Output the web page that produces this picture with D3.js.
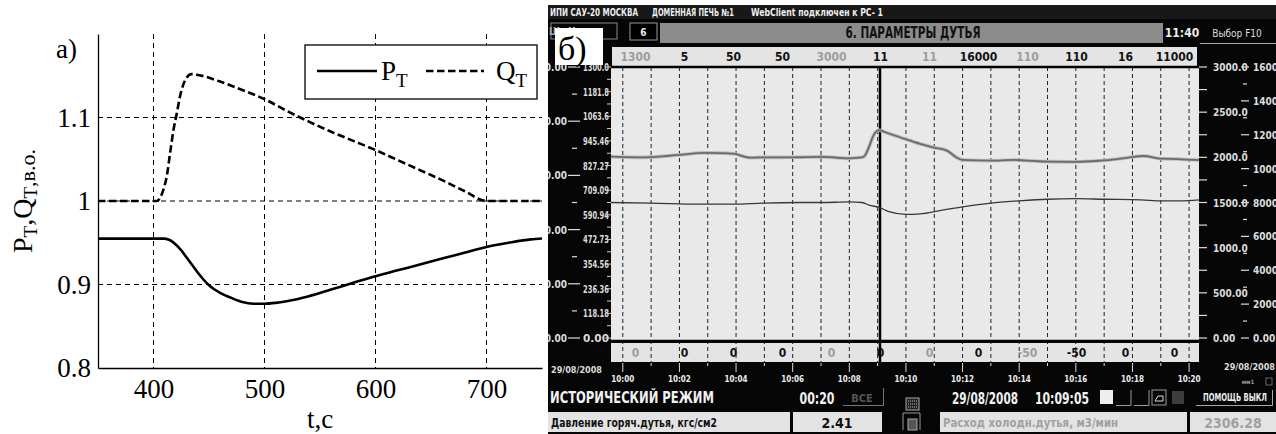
<!DOCTYPE html>
<html lang="ru">
<head>
<meta charset="UTF-8">
<title>P_T, Q_T</title>
<script src="https://d3js.org/d3.v7.min.js"></script>
<style>
    body{margin:0;background:#fff;}
    svg{display:block;}
</style>
</head>
<body>
<svg id="canvas" width="1276" height="434"></svg>
<script>
// ---------- panel a) data ----------
const tP = [350,410,415,420,425,430,435,440,445,450,455,460,470,480,490,500,510,520,540,560,580,600,620,640,660,680,700,720,740,750];
const pT = [0.955,0.955,0.953,0.948,0.941,0.932,0.923,0.914,0.906,0.899,0.894,0.890,0.884,0.879,0.877,0.877,0.878,0.880,0.886,0.894,0.902,0.910,0.917,0.924,0.931,0.938,0.945,0.950,0.954,0.955];
const tQ = [350,403,406,409,412,415,418,421,424,427,430,434,440,460,480,500,520,540,560,580,600,620,640,660,680,700,750];
const qT = [1.0,1.0,1.004,1.014,1.030,1.058,1.085,1.105,1.126,1.140,1.148,1.152,1.151,1.143,1.133,1.122,1.108,1.095,1.083,1.072,1.061,1.049,1.037,1.025,1.012,1.0,1.0];
const tTicksA = [400,500,600,700];
const yTicksA = [0.8,0.9,1,1.1];
const yGridA = [0.9,1,1.1];

// ---------- panel б) data ----------
const flowMin = [-0.42,0.5,1.0,1.55,2.1,2.9,3.4,3.9,4.5,4.95,5.55,6.25,7.0,7.5,7.9,8.45,8.55,8.7,8.85,9.05,9.3,10.0,10.5,10.95,11.45,11.8,12.0,13.0,13.8,14.5,15.0,16.0,16.85,17.4,17.9,18.4,19.0,19.6,20.35];
const flowVal = [2007,2000,2002,2015,2030,2050,2047,2040,1996,2000,2000,2001,2005,1998,1989,2000,2020,2120,2240,2300,2275,2200,2150,2111,2074,1996,1971,1963,1971,1960,1952,1950,1963,1978,2000,2015,1985,1981,1970];
const presMin = [-0.42,1.0,2.7,3.9,4.95,6.25,7.0,8.0,8.45,8.7,9.05,9.4,10.0,10.5,11.2,12.0,13.0,14.0,15.0,16.0,17.0,18.3,19.0,19.7,20.35];
const presVal = [2.50,2.49,2.47,2.47,2.49,2.50,2.50,2.51,2.50,2.45,2.41,2.33,2.28,2.29,2.35,2.42,2.49,2.53,2.56,2.57,2.56,2.55,2.53,2.53,2.55];
const colTop = ['1300','5','50','50','3000','11','11','16000','110','110','16','11000'];
const colTopDim = [1,0,0,0,1,0,1,0,1,0,0,0];
const colBot = ['0','0','0','0','0','0','0','0','-50','-50','0','0'];
const colBotDim = [1,0,0,0,1,0,1,0,1,0,0,0];
const leftOuterTicks = [0,10,20,30,40,50];
const leftInnerLabels = ['0.00','118.18','236.36','354.56','472.73','590.94','709.09','827.27','945.46','1063.6','1181.8','1300.0'];
const rightInnerTicks = [0,500,1000,1500,2000,2500,3000];
const rightInnerLabels = ['0.00','500.00','1000.0','1500.0','2000.0','2500.0','3000.0'];
const rightOuterTicks = [0,2000,4000,6000,8000,10000,12000,14000,16000];
const rightOuterLabels = ['0.00','2000.','4000.','6000.','8000.','10000','12000','14000','16000'];

const svg = d3.select('#canvas');
const serif = '"Liberation Serif","Times New Roman",serif';
const narrow = '"Liberation Sans Narrow","DejaVu Sans Condensed","Liberation Sans",Arial,sans-serif';

// =============== panel a) ===============
const A = {l:98, r:542, t:34, b:368};
const xA = d3.scaleLinear().domain([350,750]).range([A.l,A.r]);
const yA = d3.scaleLinear().domain([0.8,1.2]).range([A.b,A.t]);
const ga = svg.append('g');

ga.selectAll('.vg').data(tTicksA).join('line')
    .attr('x1',d=>xA(d)).attr('x2',d=>xA(d)).attr('y1',A.t).attr('y2',A.b)
    .attr('stroke','#000').attr('stroke-width',1).attr('stroke-dasharray','5,4');
ga.selectAll('.hg').data(yGridA).join('line')
    .attr('x1',A.l).attr('x2',A.r).attr('y1',d=>yA(d)).attr('y2',d=>yA(d))
    .attr('stroke','#000').attr('stroke-width',1).attr('stroke-dasharray','5,4');

let xAx = ga.append('g').attr('transform','translate(0,'+A.b+')')
    .call(d3.axisBottom(xA).tickValues(tTicksA).tickSize(0).tickSizeOuter(0).tickPadding(11));
let yAx = ga.append('g').attr('transform','translate('+A.l+',0)')
    .call(d3.axisLeft(yA).tickValues(yTicksA).tickSize(0).tickSizeOuter(0).tickPadding(7)
        .tickFormat(d=> d===1 ? '1' : d3.format('.1f')(d)));
[xAx,yAx].forEach(g=>{
    g.attr('font-family',serif).attr('font-size',27);
    g.select('.domain').attr('stroke','#000').attr('stroke-width',1.3);
    g.selectAll('text').attr('fill','#000');
});

let line = d3.line().x(d=>xA(d[0])).y(d=>yA(d[1])).curve(d3.curveMonotoneX);
ga.append('path').datum(d3.zip(tQ,qT)).attr('d',line)
    .attr('fill','none').attr('stroke','#000').attr('stroke-width',2.6).attr('stroke-dasharray','7.5,3.5');
ga.append('path').datum(d3.zip(tP,pT)).attr('d',line)
    .attr('fill','none').attr('stroke','#000').attr('stroke-width',2.6);

// legend
let lg = ga.append('g').attr('font-family',serif);
lg.append('rect').attr('x',305).attr('y',45).attr('width',232).attr('height',54)
    .attr('fill','#fff').attr('stroke','#000').attr('stroke-width',1.3);
lg.append('line').attr('x1',317).attr('x2',377).attr('y1',71).attr('y2',71).attr('stroke','#000').attr('stroke-width',2.6);
lg.append('line').attr('x1',426).attr('x2',484).attr('y1',71).attr('y2',71).attr('stroke','#000').attr('stroke-width',2.6).attr('stroke-dasharray','7.5,3.5');
[['P',381],['Q',496]].forEach(([s,x])=>{
    let t = lg.append('text').attr('x',x).attr('y',80).attr('font-size',27);
    t.append('tspan').text(s);
    t.append('tspan').attr('font-size',19).attr('dy',7).text('T');
});

ga.append('text').attr('x',56).attr('y',58).attr('font-family',serif).attr('font-size',27).text('а)');
ga.append('text').attr('x',(A.l+A.r)/2).attr('y',428).attr('text-anchor','middle')
    .attr('font-family',serif).attr('font-size',27).text('t,c');

let yl = ga.append('text').attr('transform','translate(32,'+((A.t+A.b)/2)+') rotate(-90)')
    .attr('text-anchor','middle').attr('font-family',serif).attr('font-size',28);
yl.append('tspan').text('P');
yl.append('tspan').attr('font-size',19).attr('dy',5).text('T');
yl.append('tspan').attr('dy',-5).text(',Q');
yl.append('tspan').attr('font-size',19).attr('dy',5).text('T');
yl.append('tspan').attr('font-size',22).attr('dy',-2).text(',в.о.');

// =============== panel б) ===============
const P = {x:548, y:5};
svg.append('clipPath').attr('id','clipb').append('rect')
    .attr('x',P.x).attr('y',P.y).attr('width',1276-P.x).attr('height',434-P.y);
const gb = svg.append('g').attr('clip-path','url(#clipb)').attr('font-family',narrow).attr('font-weight','bold');
gb.append('rect').attr('x',P.x).attr('y',P.y).attr('width',1276-P.x).attr('height',434-P.y).attr('fill','#060606');
gb.append('rect').attr('x',P.x).attr('y',P.y).attr('width',1276-P.x).attr('height',14).attr('fill','#181818');

// header
[['ИПИ САУ-20 МОСКВА',550,88],['ДОМЕННАЯ ПЕЧЬ №1',652,82],['WebClient подключен к PC- 1',751,132]].forEach(([s,x,w])=>{
    gb.append('text').attr('x',x).attr('y',16).attr('font-size',10).attr('fill','#eee')
        .attr('textLength',w).attr('lengthAdjust','spacingAndGlyphs').text(s);
});
gb.append('rect').attr('x',551).attr('y',23).attr('width',66).attr('height',16).attr('fill','none').attr('stroke','#888');
gb.append('text').attr('x',584).attr('y',35).attr('text-anchor','middle').attr('font-size',10).attr('fill','#ddd').text('Назад');
gb.append('text').attr('x',549).attr('y',35).attr('font-size',10).attr('fill','#aaa').text('Ш');
gb.append('rect').attr('x',630).attr('y',23).attr('width',27).attr('height',17).attr('fill','#000').attr('stroke','#999');
gb.append('text').attr('x',643.5).attr('y',35.5).attr('text-anchor','middle').attr('font-size',10).attr('fill','#eee').text('6');
gb.append('rect').attr('x',660).attr('y',23).attr('width',503).attr('height',20).attr('fill','#8c8c8c');
gb.append('text').attr('x',913).attr('y',38).attr('text-anchor','middle').attr('font-size',15).attr('fill','#111')
    .attr('textLength',135).attr('lengthAdjust','spacingAndGlyphs').text('6. ПАРАМЕТРЫ ДУТЬЯ');
gb.append('text').attr('x',1182).attr('y',37).attr('text-anchor','middle').attr('font-size',12).attr('fill','#eee').text('11:40');
gb.append('text').attr('x',1237).attr('y',37).attr('text-anchor','middle').attr('font-size',10).attr('font-weight','normal').attr('fill','#ddd').text('Выбор  F10');
gb.append('line').attr('x1',1200).attr('x2',1276).attr('y1',43.5).attr('y2',43.5).attr('stroke','#aaa');

// chart frame and scales
const C = {l:611, r:1199, t:67, b:341};
const t0 = new Date(2008,7,29,10,0,0);
const at = m => new Date(+t0 + m*60000);
const xB = d3.scaleTime().domain([new Date(2008,7,29,9,59,35), new Date(2008,7,29,10,20,21)]).range([C.l,C.r]);
const yFlow = d3.scaleLinear().domain([0,3000]).range([C.b-3,C.t]);
const yPres = d3.scaleLinear().domain([0,5]).range([C.b-3,C.t]);
const yLO = d3.scaleLinear().domain([0,50]).range([C.b-3,C.t]);
const yLI = d3.scaleLinear().domain([0,1300]).range([C.b-3,C.t]);
const yRO = d3.scaleLinear().domain([0,16000]).range([C.b-3,C.t]);
const col = d3.scaleBand().domain(d3.range(12)).range([C.l,C.r]);

gb.append('rect').attr('x',612).attr('y',47).attr('width',585).attr('height',19).attr('fill','#e4e4e4');
gb.append('rect').attr('x',C.l).attr('y',C.t).attr('width',C.r-C.l).attr('height',C.b-C.t).attr('fill','#e9e9e9');
gb.append('rect').attr('x',C.l).attr('y',C.b+2).attr('width',C.r-C.l).attr('height',19).attr('fill','#e4e4e4');

gb.selectAll('.vt').data(colTop).join('text')
    .attr('x',(d,i)=>col(i)+col.bandwidth()/2).attr('y',61).attr('text-anchor','middle')
    .attr('font-size',12).attr('fill',(d,i)=>colTopDim[i]?'#9c9c9c':'#111').text(d=>d);
gb.selectAll('.vb').data(colBot).join('text')
    .attr('x',(d,i)=>col(i)+col.bandwidth()/2).attr('y',357).attr('text-anchor','middle')
    .attr('font-size',12).attr('fill',(d,i)=>colBotDim[i]?'#9c9c9c':'#111').text(d=>d);

const minutes = xB.ticks(d3.timeMinute.every(1));
gb.selectAll('.grid').data(minutes).join('line')
    .attr('x1',d=>xB(d)).attr('x2',d=>xB(d)).attr('y1',C.t).attr('y2',C.b+21)
    .attr('stroke','#222').attr('stroke-width',1).attr('stroke-dasharray','4,3');
gb.selectAll('.mt').data(minutes).join('line')
    .attr('x1',d=>xB(d)).attr('x2',d=>xB(d)).attr('y1',C.b+22)
    .attr('y2',d=>d.getMinutes()%2===0?C.b+31:C.b+25)
    .attr('stroke','#ddd').attr('stroke-width',1);
gb.selectAll('.tl').data(xB.ticks(d3.timeMinute.every(2))).join('text')
    .attr('x',d=>xB(d)).attr('y',382).attr('text-anchor','middle').attr('font-size',8).attr('fill','#eee')
    .text(d3.timeFormat('%H:%M'));

gb.append('line').attr('x1',605).attr('x2',C.r).attr('y1',C.t).attr('y2',C.t).attr('stroke','#000').attr('stroke-width',2.5);
gb.append('line').attr('x1',605).attr('x2',C.r+4).attr('y1',C.b).attr('y2',C.b).attr('stroke','#000').attr('stroke-width',2.5);
const cursor = new Date(2008,7,29,10,9,5);
gb.append('line').attr('x1',xB(cursor)).attr('x2',xB(cursor)).attr('y1',C.t).attr('y2',C.b+21)
    .attr('stroke','#000').attr('stroke-width',2.5);

// curves
const lineFlow = d3.line().x(d=>xB(at(d[0]))).y(d=>yFlow(d[1])).curve(d3.curveMonotoneX);
const linePres = d3.line().x(d=>xB(at(d[0]))).y(d=>yPres(d[1])).curve(d3.curveMonotoneX);
gb.append('path').datum(d3.zip(flowMin,flowVal)).attr('d',lineFlow).attr('fill','none').attr('stroke','#bcbcbc').attr('stroke-width',3.6);
gb.append('path').datum(d3.zip(flowMin,flowVal)).attr('d',lineFlow).attr('fill','none').attr('stroke','#6c6c6c').attr('stroke-width',1.8);
gb.append('path').datum(d3.zip(presMin,presVal)).attr('d',linePres).attr('fill','none').attr('stroke','#383838').attr('stroke-width',1.3);

// left scales
gb.selectAll('.lo').data(leftOuterTicks).join('text')
    .attr('x',567).attr('y',d=>yLO(d)+4).attr('text-anchor','end').attr('font-size',10).attr('fill','#ddd')
    .text(d=>d3.format('.2f')(d));
gb.selectAll('.lot').data(leftOuterTicks).join('line')
    .attr('x1',568).attr('x2',580).attr('y1',d=>yLO(d)).attr('y2',d=>yLO(d)).attr('stroke','#ddd').attr('stroke-width',1.2);
gb.selectAll('.lom').data([5,15,25,35,45]).join('line')
    .attr('x1',572).attr('x2',577).attr('y1',d=>yLO(d)).attr('y2',d=>yLO(d)).attr('stroke','#ddd').attr('stroke-width',1.2);
gb.selectAll('.li').data(leftInnerLabels).join('text')
    .attr('x',609).attr('y',(d,i)=>yLI(i*1300/11)+4).attr('text-anchor','end').attr('font-size',10).attr('fill','#ddd')
    .attr('textLength',26).attr('lengthAdjust','spacingAndGlyphs').text(d=>d);
gb.selectAll('.lit').data(d3.range(23)).join('line')
    .attr('x1',d=>d%2?607:605).attr('x2',C.l).attr('y1',d=>yLI(d*650/11)).attr('y2',d=>yLI(d*650/11)).attr('stroke','#ccc');

// right scales
gb.selectAll('.rit').data(d3.range(13)).join('line')
    .attr('x1',C.r).attr('x2',C.r+8).attr('y1',d=>yFlow(d*250)).attr('y2',d=>yFlow(d*250)).attr('stroke','#ddd').attr('stroke-width',1.2);
gb.selectAll('.ri').data(rightInnerTicks).join('text')
    .attr('x',1213).attr('y',d=>yFlow(d)+4).attr('font-size',10).attr('fill','#ddd')
    .text((d,i)=>rightInnerLabels[i]);
gb.selectAll('.rot').data(d3.range(17)).join('line')
    .attr('x1',d=>d%2?1243:1241).attr('x2',d=>d%2?1247:1249).attr('y1',d=>yRO(d*1000)).attr('y2',d=>yRO(d*1000))
    .attr('stroke','#ddd').attr('stroke-width',1.2);
gb.selectAll('.ro').data(rightOuterTicks).join('text')
    .attr('x',1253).attr('y',d=>yRO(d)+4).attr('font-size',10).attr('fill','#ddd')
    .text((d,i)=>rightOuterLabels[i]);

// dates
gb.append('text').attr('x',551).attr('y',373).attr('font-size',9).attr('fill','#ddd').text('29/08/2008');
gb.append('text').attr('x',1275).attr('y',370).attr('text-anchor','end').attr('font-size',9).attr('fill','#ddd').text('29/08/2008');
gb.append('text').attr('x',1248).attr('y',384).attr('text-anchor','middle').attr('font-size',6).attr('fill','#999').text('мм1');
gb.append('rect').attr('x',1266).attr('y',378).attr('width',6).attr('height',7).attr('fill','none').attr('stroke','#666');

// status row
gb.append('text').attr('x',550).attr('y',403).attr('font-size',16).attr('fill','#f2f2f2')
    .attr('textLength',164).attr('lengthAdjust','spacingAndGlyphs').text('ИСТОРИЧЕСКИЙ РЕЖИМ');
gb.append('text').attr('x',817).attr('y',404).attr('text-anchor','middle').attr('font-size',15).attr('fill','#f2f2f2')
    .attr('textLength',35).attr('lengthAdjust','spacingAndGlyphs').text('00:20');
gb.append('text').attr('x',862).attr('y',402).attr('text-anchor','middle').attr('font-size',11).attr('fill','#555').text('ВСЕ');
gb.append('path').attr('d','M843,405.5H883.5V388').attr('fill','none').attr('stroke','#777');
gb.append('rect').attr('x',906).attr('y',398).attr('width',13).attr('height',12).attr('fill','#222').attr('stroke','#aaa');
gb.selectAll('.ic').data(d3.range(3)).join('line')
    .attr('x1',908).attr('x2',917).attr('y1',d=>401+d*3).attr('y2',d=>401+d*3).attr('stroke','#bbb').attr('stroke-dasharray','1,1');
gb.append('path').attr('d','M903,430V413H920V430').attr('fill','none').attr('stroke','#999');
gb.append('rect').attr('x',908).attr('y',419).attr('width',9).attr('height',11).attr('fill','#555').attr('stroke','#aaa');
gb.append('text').attr('x',985).attr('y',404).attr('text-anchor','middle').attr('font-size',15).attr('fill','#f2f2f2')
    .attr('textLength',66).attr('lengthAdjust','spacingAndGlyphs').text('29/08/2008');
gb.append('text').attr('x',1062).attr('y',404).attr('text-anchor','middle').attr('font-size',15).attr('fill','#f2f2f2')
    .attr('textLength',54).attr('lengthAdjust','spacingAndGlyphs').text(d3.timeFormat('%H:%M:%S')(cursor));
gb.append('rect').attr('x',1100).attr('y',390).attr('width',13).attr('height',14).attr('fill','#eee');
[1116,1134].forEach(x=>gb.append('path').attr('d','M'+x+',405.5H'+(x+15)+'V390').attr('fill','none').attr('stroke','#999'));
gb.append('rect').attr('x',1152).attr('y',390).attr('width',14).attr('height',15).attr('fill','none').attr('stroke','#999');
gb.append('path').attr('d','M1155,401H1163V396H1158Z').attr('fill','none').attr('stroke','#ddd');
gb.append('rect').attr('x',1172).attr('y',391).attr('width',12).attr('height',13).attr('fill','#3c3c3c');
gb.append('text').attr('x',1235).attr('y',401).attr('text-anchor','middle').attr('font-size',10).attr('fill','#eee')
    .attr('textLength',64).attr('lengthAdjust','spacingAndGlyphs').text('ПОМОЩЬ ВЫКЛ');
gb.append('path').attr('d','M1196,405.5H1272.5V390').attr('fill','none').attr('stroke','#aaa');

// bottom value boxes
[[548,790],[793,882],[940,1187],[1190,1276]].forEach(([a,b])=>{
    gb.append('rect').attr('x',a).attr('y',412).attr('width',b-a).attr('height',20).attr('fill','#e3e3e3');
});
gb.append('text').attr('x',551).attr('y',427).attr('font-size',13).attr('fill','#111')
    .attr('textLength',166).attr('lengthAdjust','spacingAndGlyphs').text('Давление горяч.дутья, кгс/см2');
gb.append('text').attr('x',837).attr('y',428).attr('text-anchor','middle').attr('font-size',14).attr('fill','#111').text(presVal[10].toFixed(2));
gb.append('text').attr('x',943).attr('y',427).attr('font-size',13).attr('fill','#a0a0a0')
    .attr('textLength',175).attr('lengthAdjust','spacingAndGlyphs').text('Расход холодн.дутья, м3/мин');
gb.append('text').attr('x',1233).attr('y',428).attr('text-anchor','middle').attr('font-size',14).attr('fill','#a0a0a0').text('2306.28');

// б) label
svg.append('rect').attr('x',555).attr('y',28).attr('width',48).attr('height',37).attr('fill','#fff');
svg.append('text').attr('x',558).attr('y',60).attr('font-family',serif).attr('font-size',34).text('б)');
</script>
</body>
</html>
